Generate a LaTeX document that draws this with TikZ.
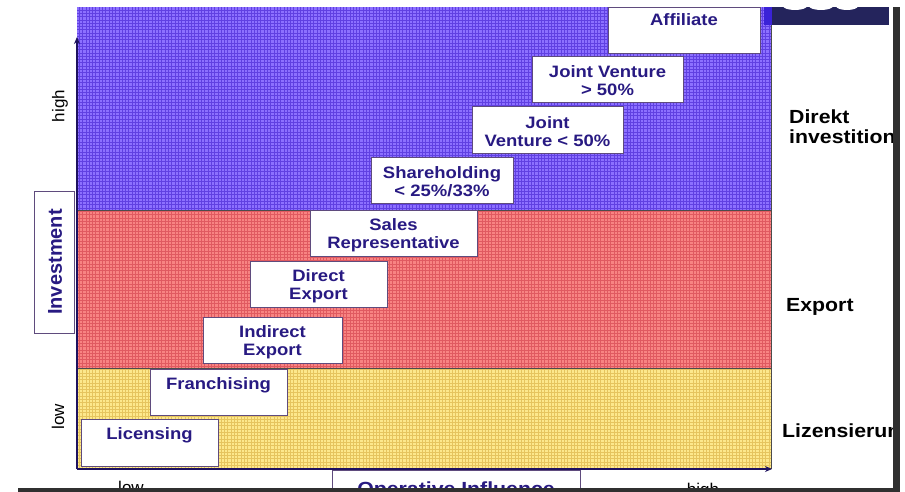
\documentclass[tikz,border=0pt]{standalone}
\usepackage{fontspec}
\setmainfont[FakeStretch=1.12]{Liberation Sans}
\newfontfamily\rotfont{Liberation Sans}
\usetikzlibrary{arrows.meta}
\definecolor{navytext}{RGB}{40,26,130}
\definecolor{bluefill}{RGB}{140,112,255}
\definecolor{bluegrid}{RGB}{96,64,226}
\definecolor{redfill}{RGB}{248,132,130}
\definecolor{redgrid}{RGB}{224,90,96}
\definecolor{yelfill}{RGB}{253,232,140}
\definecolor{yelgrid}{RGB}{230,196,94}
\definecolor{boxline}{RGB}{95,75,125}
\definecolor{axiscol}{RGB}{30,18,95}
\definecolor{navybar}{RGB}{36,36,92}
\definecolor{stripblue}{RGB}{58,34,215}
\definecolor{barcol}{RGB}{48,48,48}
\newcommand{\topstrut}{\rule{0pt}{16pt}}
\tikzset{
  optbox/.style={draw=boxline, fill=white, line width=0.8pt, inner sep=0pt,
    text=navytext, align=center, font=\bfseries\fontsize{16.5}{18}\selectfont},
  boxtext/.style={text=navytext, inner sep=0pt, font=\bfseries\fontsize{16.5}{18}\selectfont},
  sidelabel/.style={text=black, inner sep=0pt, align=left, font=\bfseries\fontsize{19}{20}\selectfont},
  axislabel/.style={inner sep=0pt, font=\rotfont\fontsize{17}{17}\selectfont},
  gridline/.style={line width=0.45pt, step=3.3pt},
  axis/.style={axiscol, line width=2pt, -{Stealth[length=7pt,width=6pt]}},
  region/.style={draw=black!70, line width=0.6pt}
}
\begin{document}
\begin{tikzpicture}[x=1pt,y=-1pt]
\useasboundingbox (0,0) rectangle (905,492);
\clip (0,0) rectangle (905,492);
\fill[white] (0,0) rectangle (905,492);
% regions
\fill[bluefill] (77,7) rectangle (771,210);
\draw[bluegrid, gridline] (77,7) grid (771,210);
\fill[redfill] (77,210) rectangle (771,368);
\draw[redgrid, gridline] (77,210) grid (771,368);
\fill[yelfill] (77,368) rectangle (771,469);
\draw[yelgrid, gridline] (77,368) grid (771,469);
\draw[region] (771,7) -- (771,469);
\draw[region] (77,210) -- (771,210);
\draw[region] (77,368) -- (771,368);
% axes
\coordinate (origin) at (77,469);
\coordinate (ytop) at (77,37);
\coordinate (xend) at (772,469);
\draw[axis] (origin) -- (ytop);
\draw[axis] (origin) -- (xend);
% option boxes
\node[optbox, minimum width=152pt, minimum height=46pt] (aff) at (684,30) {};
\node[boxtext, anchor=base] (afft) at (684,26) {Affiliate};
\node[optbox, minimum width=151pt, minimum height=46pt] (jv1) at (607.5,79) {\topstrut Joint Venture\\> 50\%};
\node[optbox, minimum width=151pt, minimum height=47pt] (jv2) at (547.5,129.5) {\topstrut Joint\\Venture < 50\%};
\node[optbox, minimum width=142pt, minimum height=46pt] (sh) at (442,180) {\topstrut Shareholding\\< 25\%/33\%};
\node[optbox, minimum width=167pt, minimum height=46pt] (sr) at (393.5,233) {\topstrut Sales\\Representative};
\node[optbox, minimum width=137pt, minimum height=46pt] (de) at (318.5,284) {\topstrut Direct\\Export};
\node[optbox, minimum width=139pt, minimum height=46pt] (ie) at (272.5,340) {\topstrut Indirect\\Export};
\node[optbox, minimum width=137pt, minimum height=46pt] (fr) at (218.5,392) {};
\node[boxtext, anchor=base] (frt) at (218.5,389) {Franchising};
\node[optbox, minimum width=137pt, minimum height=47pt] (li) at (149.5,442.5) {};
\node[boxtext, anchor=base] (lit) at (149.5,439) {Licensing};
% y axis labels
\node[axislabel, rotate=90] (yhigh) at (60,106) {high};
\node[axislabel, rotate=90] (ylow) at (58,417) {low};
\node[draw=boxline, fill=white, line width=0.8pt, minimum width=40pt, minimum height=142pt, inner sep=0pt] (invbox) at (54,262) {};
\node[rotate=90, text=navytext, inner sep=0pt, font=\rotfont\bfseries\fontsize{20}{20}\selectfont] (inv) at (55,262) {Investment};
% x axis labels
\node[draw=boxline, fill=white, line width=0.8pt, minimum width=248pt, minimum height=30pt, inner sep=0pt] (opbox) at (456,485) {};
\node[text=navytext, inner sep=0pt, anchor=base, font=\bfseries\fontsize{19}{19}\selectfont] (opt) at (456,495) {Operative Influence};
\node[axislabel, anchor=base] (xlow) at (131,493) {low};
\node[axislabel, anchor=base] (xhigh) at (703,495) {high};
% right labels
\begin{scope}
\clip (772,0) rectangle (893,492);
\node[sidelabel, anchor=north west] (direkt) at (789,110) {Direkt\\investition};
\node[sidelabel, anchor=base west] (export) at (786,311) {Export};
\node[sidelabel, anchor=base west] (lizenz) at (782,437) {Lizensierung};
\end{scope}
% frame bars
\fill[barcol] (18,488) rectangle (900,492);
\fill[barcol] (893,7) rectangle (900,492);
% header logo
\fill[stripblue] (764,7) rectangle (772,25);
\fill[navybar] (772,7) rectangle (889,25);
\fill[white] (795,6) ellipse [x radius=12, y radius=4];
\fill[white] (821,6) ellipse [x radius=12, y radius=4];
\fill[white] (847,6) ellipse [x radius=11, y radius=4];
\end{tikzpicture}
\end{document}
